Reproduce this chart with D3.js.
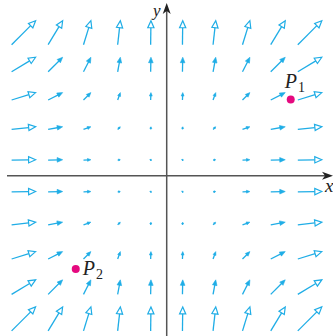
<!DOCTYPE html>
<html>
<head>
<meta charset="utf-8">
<script src="https://cdn.jsdelivr.net/npm/d3@7"></script>
<style>
  html, body { margin: 0; padding: 0; background: #fff; }
  svg { display: block; }
  .lbl { font-family: "Liberation Serif", "Times New Roman", serif; font-style: italic; fill: #222; }
</style>
</head>
<body>
<div id="chart"></div>
<script>
// grid sample points (column x values, row y values)
const xs = [-4.5, -3.5, -2.5, -1.5, -0.5, 0.5, 1.5, 2.5, 3.5, 4.5];
const ys = [-4.5, -3.5, -2.5, -1.5, -0.5, 0.5, 1.5, 2.5, 3.5, 4.5];
// horizontal component read per column, vertical component read per row
const us = [20.25, 12.25, 6.25, 2.25, 0.25, 0.25, 2.25, 6.25, 12.25, 20.25];
const vs = [20.25, 12.25, 6.25, 2.25, 0.25, 0.25, 2.25, 6.25, 12.25, 20.25];
// marked points
const pointNames = ["P", "P"];
const pointSubs = ["1", "2"];
const pointX = [3.9, -2.86];
const pointY = [2.4, -2.93];

const W = 333, H = 336;
const blue = "#1fade6";

const svg = d3.select("#chart").append("svg")
  .attr("width", W).attr("height", H);

const x = d3.scaleLinear().domain([-4.5, 4.5]).range([23.6, 309.8]);
const y = d3.scaleLinear().domain([-4.5, 4.5]).range([318.9, 32.7]);
const mag = d3.scaleLinear().domain([0, 1]).range([0, 1.185]);

const ox = x(0), oy = y(0);

// axes
const axisColor = "#555";
svg.append("line").attr("x1", 7).attr("x2", W - 6).attr("y1", oy).attr("y2", oy)
  .attr("stroke", axisColor).attr("stroke-width", 1.5);
svg.append("line").attr("x1", ox).attr("x2", ox).attr("y1", H).attr("y2", 10)
  .attr("stroke", axisColor).attr("stroke-width", 1.5);
// axis arrowheads
svg.append("path")
  .attr("d", `M${W},${oy} L${W - 11},${oy - 4} L${W - 8},${oy} L${W - 11},${oy + 4} Z`)
  .attr("fill", "#222");
svg.append("path")
  .attr("d", `M${ox},3 L${ox - 4},14 L${ox},11 L${ox + 4},14 Z`)
  .attr("fill", "#222");

svg.append("text").attr("class", "lbl").attr("x", 153).attr("y", 16)
  .attr("font-size", 17).text("y");
svg.append("text").attr("class", "lbl").attr("x", 325).attr("y", 192)
  .attr("font-size", 19).text("x");

// vector field
const cells = [];
xs.forEach((xv, i) => ys.forEach((yv, j) => cells.push({ x: xv, y: yv, u: us[i], v: vs[j] })));

const g = svg.append("g");
cells.forEach(c => {
  const cx = x(c.x), cy = y(c.y);
  const dx = mag(c.u), dy = -mag(c.v);
  let len = Math.hypot(dx, dy);
  const ux = dx / len, uy = dy / len;
  len = Math.max(len, 1.6);
  const tx = cx - ux * len / 2, ty = cy - uy * len / 2;
  const hx = cx + ux * len / 2, hy = cy + uy * len / 2;
  const hollow = len > 22;
  const hl = Math.min(hollow ? 7 : 5.5, len * 0.38 + 0.6);
  const hw = hollow ? 3.1 : Math.max(1, hl * 0.42);
  const bx = hx - ux * hl, by = hy - uy * hl;
  const px = -uy, py = ux;
  if (len > hl) {
    g.append("line")
      .attr("x1", tx).attr("y1", ty).attr("x2", hollow ? bx : hx - ux * hl * 0.5).attr("y2", hollow ? by : hy - uy * hl * 0.5)
      .attr("stroke", blue).attr("stroke-width", 1.3).attr("stroke-linecap", "butt");
  }
  g.append("path")
    .attr("d", `M${hx},${hy} L${bx + px * hw},${by + py * hw} L${bx - px * hw},${by - py * hw} Z`)
    .attr("fill", hollow ? "#fff" : blue)
    .attr("stroke", blue).attr("stroke-width", hollow ? 1.2 : 0.6)
    .attr("stroke-linejoin", "miter");
});

// marked points
pointX.forEach((px, i) => {
  const cx = x(px), cy = y(pointY[i]);
  svg.append("circle").attr("cx", cx).attr("cy", cy).attr("r", 4)
    .attr("fill", "#e5097f");
  const t = svg.append("text").attr("class", "lbl").attr("font-size", 20);
  if (i === 0) t.attr("x", cx - 6).attr("y", cy - 11);
  else t.attr("x", cx + 7).attr("y", cy + 6);
  t.append("tspan").text(pointNames[i]);
  t.append("tspan").attr("font-style", "normal").attr("font-size", 14).attr("dy", 4).attr("dx", 1).text(pointSubs[i]);
});
</script>
</body>
</html>
